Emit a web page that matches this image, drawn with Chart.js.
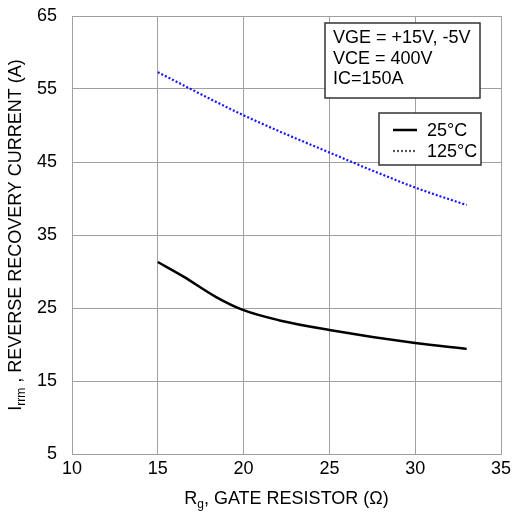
<!DOCTYPE html>
<html>
<head>
<meta charset="utf-8">
<script src="https://cdn.jsdelivr.net/npm/chart.js@4/dist/chart.umd.min.js"></script>
<style>
  html, body { margin: 0; padding: 0; background: #fff; }
  #wrap { width: 513px; height: 512px; }
</style>
</head>
<body>
<div id="wrap"><canvas id="chart"></canvas></div>
<script>
const rg25 = [15, 16.5, 18.4, 20, 22.1, 25, 30, 33];
const irr25 = [31.3, 29.3, 26.5, 24.7, 23.3, 22.0, 20.2, 19.4];
const rg125 = [15, 20, 25, 30, 33];
const irr125 = [57.3, 51.4, 46.3, 41.5, 39.1];
const seriesLabels = ['25°C', '125°C'];
const noteLines = ['VGE = +15V, -5V', 'VCE = 400V', 'IC=150A'];
const xTicks = [10, 15, 20, 25, 30, 35];
const yTicks = [5, 15, 25, 35, 45, 55, 65];

const FONT = '"Liberation Sans", Arial, sans-serif';
const gridCol = '#a0a0a0';

// titles with subscripts, note box and legend drawn on top
const decorPlugin = {
  id: 'decor',
  afterDraw(chart) {
    const ctx = chart.ctx;
    const area = chart.chartArea;
    ctx.save();
    ctx.fillStyle = '#000';
    ctx.textBaseline = 'alphabetic';

    // x title: R_g, GATE RESISTOR (Ω)
    const big = '18px ' + FONT, sub = '12px ' + FONT;
    ctx.font = big;
    const wR = ctx.measureText('R').width;
    const wRest = ctx.measureText(', GATE RESISTOR (Ω)').width;
    ctx.font = sub;
    const wg = ctx.measureText('g').width;
    let x = (area.left + area.right) / 2 - (wR + wg + wRest) / 2;
    const by = 504;
    ctx.font = big; ctx.fillText('R', x, by); x += wR;
    ctx.font = sub; ctx.fillText('g', x, by + 4); x += wg;
    ctx.font = big; ctx.fillText(', GATE RESISTOR (Ω)', x, by);

    // y title: I_rrm , REVERSE RECOVERY CURRENT (A)
    ctx.save();
    ctx.translate(21, (area.top + area.bottom) / 2);
    ctx.rotate(-Math.PI / 2);
    ctx.font = big;
    const wI = ctx.measureText('I').width;
    const wRest2 = ctx.measureText(' , REVERSE RECOVERY CURRENT (A)').width;
    ctx.font = sub;
    const wrrm = ctx.measureText('rrm').width;
    let t = -(wI + wrrm + wRest2) / 2;
    ctx.font = big; ctx.fillText('I', t, 0); t += wI;
    ctx.font = sub; ctx.fillText('rrm', t, 4); t += wrrm;
    ctx.font = big; ctx.fillText(' , REVERSE RECOVERY CURRENT (A)', t, 0);
    ctx.restore();

    // condition box
    ctx.fillStyle = '#fff';
    ctx.fillRect(325, 23, 155, 75);
    ctx.strokeStyle = '#333';
    ctx.lineWidth = 1.5;
    ctx.strokeRect(325, 23, 155, 75);
    ctx.fillStyle = '#000';
    ctx.font = '18px ' + FONT;
    noteLines.forEach((s, i) => ctx.fillText(s, 333, 43 + i * 20.5));

    // legend box
    ctx.fillStyle = '#fff';
    ctx.fillRect(379, 113, 102, 52);
    ctx.strokeRect(379, 113, 102, 52);
    chart.data.datasets.forEach((ds, i) => {
      const ly = 130 + i * 21;
      ctx.strokeStyle = ds.borderColor === '#000' ? '#000' : '#555';
      ctx.lineWidth = ds.borderWidth;
      ctx.setLineDash(ds.borderDash || []);
      ctx.beginPath();
      ctx.moveTo(393, ly);
      ctx.lineTo(417, ly);
      ctx.stroke();
      ctx.setLineDash([]);
      ctx.fillStyle = '#000';
      ctx.font = '18px ' + FONT;
      ctx.fillText(seriesLabels[i], 427, ly + 6);
    });
    ctx.restore();
  }
};

new Chart(document.getElementById('chart'), {
  type: 'line',
  data: {
    datasets: [
      {
        label: seriesLabels[0],
        data: rg25.map((v, i) => ({ x: v, y: irr25[i] })),
        borderColor: '#000', borderWidth: 2.5,
        pointRadius: 0, cubicInterpolationMode: 'monotone', fill: false
      },
      {
        label: seriesLabels[1],
        data: rg125.map((v, i) => ({ x: v, y: irr125[i] })),
        borderColor: '#1414ff', borderWidth: 2.2, borderDash: [2, 2],
        pointRadius: 0, cubicInterpolationMode: 'monotone', fill: false
      }
    ]
  },
  options: {
    responsive: true, maintainAspectRatio: false, animation: false,
    layout: { padding: { top: 16, right: 12, left: 0, bottom: 0 } },
    plugins: { legend: { display: false }, tooltip: { enabled: false } },
    scales: {
      x: {
        type: 'linear', min: 10, max: 35,
        afterBuildTicks: s => { s.ticks = xTicks.map(v => ({ value: v })); },
        afterFit: s => { s.height = 58; s.paddingLeft = 0; s.paddingRight = 0; },
        ticks: { color: '#000', font: { size: 18, family: FONT }, padding: 4, maxRotation: 0 },
        grid: { color: gridCol, lineWidth: 1, drawTicks: false },
        border: { color: gridCol, width: 1 }
      },
      y: {
        type: 'linear', min: 5, max: 65,
        afterBuildTicks: s => { s.ticks = yTicks.map(v => ({ value: v })); },
        afterFit: s => { s.width = 72; s.paddingTop = 0; s.paddingBottom = 0; },
        ticks: { color: '#000', font: { size: 18, family: FONT }, padding: 15 },
        grid: { color: gridCol, lineWidth: 1, drawTicks: false },
        border: { color: gridCol, width: 1 }
      }
    }
  },
  plugins: [decorPlugin]
});
</script>
</body>
</html>
